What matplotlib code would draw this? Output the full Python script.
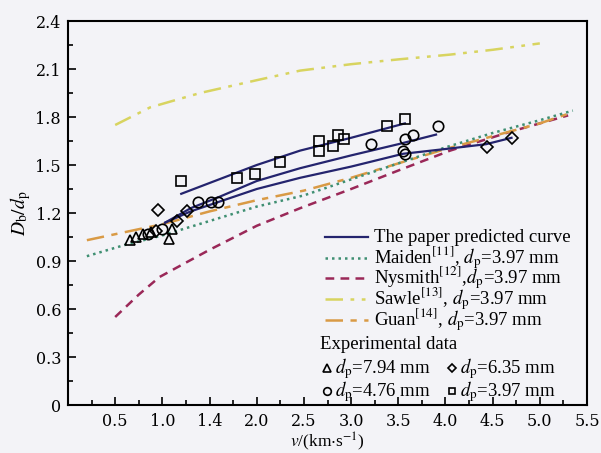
import matplotlib

matplotlib.use("Agg")
import matplotlib.pyplot as plt
from matplotlib.lines import Line2D
from matplotlib.ticker import MultipleLocator

plt.rcParams["font.family"] = ["Liberation Serif", "DejaVu Serif"]
plt.rcParams["mathtext.fontset"] = "stix"

# predicted curves (three diameters)
pred_up_x = [1.20, 1.60, 2.00, 2.46, 3.00, 3.57]
pred_up_y = [1.32, 1.41, 1.50, 1.59, 1.67, 1.76]
pred_mid_x = [1.03, 1.30, 1.60, 2.00, 2.46, 3.00, 3.50, 3.90]
pred_mid_y = [1.14, 1.23, 1.30, 1.40, 1.48, 1.56, 1.63, 1.69]
pred_low_x = [1.03, 1.30, 1.60, 2.00, 2.46, 3.00, 3.55, 4.00, 4.43, 4.70]
pred_low_y = [1.14, 1.21, 1.27, 1.35, 1.42, 1.49, 1.57, 1.60, 1.63, 1.67]

maiden_x = [0.20, 0.60, 1.00, 1.50, 2.00, 2.50, 3.00, 3.50, 4.00, 4.50, 5.00, 5.35]
maiden_y = [0.93, 1.00, 1.06, 1.15, 1.24, 1.31, 1.41, 1.51, 1.61, 1.70, 1.78, 1.84]
nysmith_x = [0.50, 0.75, 0.97, 1.25, 1.50, 2.00, 2.46, 3.00, 3.52, 4.05, 4.70, 5.30]
nysmith_y = [0.55, 0.69, 0.80, 0.89, 0.97, 1.12, 1.23, 1.35, 1.47, 1.59, 1.71, 1.81]
sawle_x = [0.50, 0.87, 1.40, 2.00, 2.46, 3.00, 3.50, 4.05, 4.50, 5.00]
sawle_y = [1.75, 1.86, 1.95, 2.03, 2.09, 2.13, 2.16, 2.19, 2.22, 2.26]
guan_x = [0.20, 0.60, 1.00, 1.50, 2.00, 2.50, 3.00, 3.50, 4.00, 4.50, 5.00, 5.30]
guan_y = [1.03, 1.08, 1.13, 1.21, 1.28, 1.34, 1.42, 1.51, 1.60, 1.68, 1.76, 1.82]

# experimental data
tri_x = [0.66, 0.72, 0.80, 0.88, 1.07, 1.10]
tri_y = [1.03, 1.05, 1.07, 1.08, 1.04, 1.10]
dia_x = [0.95, 0.93, 1.15, 1.26, 4.44, 4.70]
dia_y = [1.22, 1.09, 1.15, 1.21, 1.61, 1.67]
cir_x = [0.85, 1.00, 1.38, 1.52, 1.59, 3.21, 3.55, 3.57, 3.57, 3.66, 3.92]
cir_y = [1.07, 1.10, 1.27, 1.27, 1.27, 1.63, 1.59, 1.57, 1.66, 1.69, 1.745]
sq_x = [1.20, 1.79, 1.98, 2.25, 2.66, 2.66, 2.81, 2.86, 2.92, 3.38, 3.57]
sq_y = [1.40, 1.42, 1.445, 1.52, 1.65, 1.59, 1.62, 1.69, 1.66, 1.745, 1.79]

x_ticks = [0.5, 1.0, 1.5, 2.0, 2.5, 3.0, 3.5, 4.0, 4.5, 5.0, 5.5]
x_labels = ["0.5", "1.0", "1.4", "2.0", "2.5", "3.0", "3.5", "4.0", "4.5", "5.0", "5.5"]
y_ticks = [0, 0.3, 0.6, 0.9, 1.2, 1.5, 1.8, 2.1, 2.4]
y_labels = ["0", "0.3", "0.6", "0.9", "1.2", "1.5", "1.8", "2.1", "2.4"]

line_labels = [
    "The paper predicted curve",
    r"Maiden$^{[11]}$, $d_\mathrm{p}$=3.97 mm",
    r"Nysmith$^{[12]}$,$d_\mathrm{p}$=3.97 mm",
    r"Sawle$^{[13]}$, $d_\mathrm{p}$=3.97 mm",
    r"Guan$^{[14]}$, $d_\mathrm{p}$=3.97 mm",
]
mk_labels = [
    r"$d_\mathrm{p}$=7.94 mm",
    r"$d_\mathrm{p}$=6.35 mm",
    r"$d_\mathrm{p}$=4.76 mm",
    r"$d_\mathrm{p}$=3.97 mm",
]

W, H = 601, 453
bg = "#f3f3f7"
navy = "#24246e"
c_maiden = "#3f8f72"
c_nysmith = "#9a2858"
c_sawle = "#d8d460"
c_guan = "#d99a45"

styles = [
    dict(color=navy, lw=1.6),
    dict(color=c_maiden, lw=1.8, dashes=(1, 1.6)),
    dict(color=c_nysmith, lw=1.8, dashes=(3.5, 2.5)),
    dict(color=c_sawle, lw=1.8, dashes=(7, 3, 1.5, 3, 1.5, 3)),
    dict(color=c_guan, lw=1.8, dashes=(7, 3, 2.5, 3)),
]
mk = dict(ls="none", mfc="none", mec="black", mew=1.2)


def fx(px):
    return px / W


def fy(py):
    return 1 - py / H


fig = plt.figure(figsize=(W / 100, H / 100), dpi=100, facecolor=bg)
ax = fig.add_axes([fx(68), fy(405), fx(587) - fx(68), fy(21) - fy(405)], facecolor=bg)

ax.plot(sawle_x, sawle_y, **styles[3])
ax.plot(nysmith_x, nysmith_y, **styles[2])
ax.plot(guan_x, guan_y, **styles[4])
ax.plot(maiden_x, maiden_y, **styles[1])
for px, py in [(pred_up_x, pred_up_y), (pred_mid_x, pred_mid_y), (pred_low_x, pred_low_y)]:
    ax.plot(px, py, **styles[0])

ax.plot(tri_x, tri_y, marker="^", ms=7, **mk)
ax.plot(dia_x, dia_y, marker="D", ms=6, **mk)
ax.plot(cir_x, cir_y, marker="o", ms=7.5, **mk)
ax.plot(sq_x, sq_y, marker="s", ms=7, **mk)

ax.set_xlim(0, 5.5)
ax.set_ylim(0, 2.4)
ax.set_xticks(x_ticks)
ax.set_xticklabels(x_labels)
ax.set_yticks(y_ticks)
ax.set_yticklabels(y_labels)
ax.xaxis.set_minor_locator(MultipleLocator(0.25))
ax.yaxis.set_minor_locator(MultipleLocator(0.15))
ax.tick_params(which="both", direction="in", top=False, right=False, width=1.2)
ax.tick_params(which="major", length=6)
ax.tick_params(which="minor", length=3.5)
ax.tick_params(axis="x", pad=6)
ax.tick_params(axis="y", pad=5)
for lab in ax.get_xticklabels() + ax.get_yticklabels():
    lab.set_family(["DejaVu Serif"])
    lab.set_fontsize(11.5)
for sp in ax.spines.values():
    sp.set_linewidth(1.5)

ax.set_xlabel(r"$v$/(km$\cdot$s$^{-1}$)", fontsize=12.5, labelpad=0)
ax.set_ylabel(r"$D_\mathrm{b}/d_\mathrm{p}$", fontsize=14, labelpad=2)

# legend laid out by hand: tight rows like the printed figure
fs = 13.5
row_y = [237, 258, 278, 299, 320]
for yy, st, lab in zip(row_y, styles, line_labels):
    fig.add_artist(Line2D([fx(325), fx(368)], [fy(yy), fy(yy)], **st))
    fig.text(fx(374), fy(yy + 5), lab, fontsize=fs, va="baseline", ha="left")

fig.text(fx(320), fy(349), "Experimental data", fontsize=fs, va="baseline", ha="left")

mk_pos = [(327, 368, "^", 5.5), (452, 368, "D", 4.5), (327, 391, "o", 5.5), (452, 391, "s", 5)]
for (mx, my, m, s), lab in zip(mk_pos, mk_labels):
    fig.add_artist(Line2D([fx(mx)], [fy(my)], marker=m, ms=s, **mk))
    fig.text(fx(mx + 8), fy(my + 5), lab, fontsize=fs, va="baseline", ha="left")

fig.savefig("out.png", dpi=100, facecolor=bg)
